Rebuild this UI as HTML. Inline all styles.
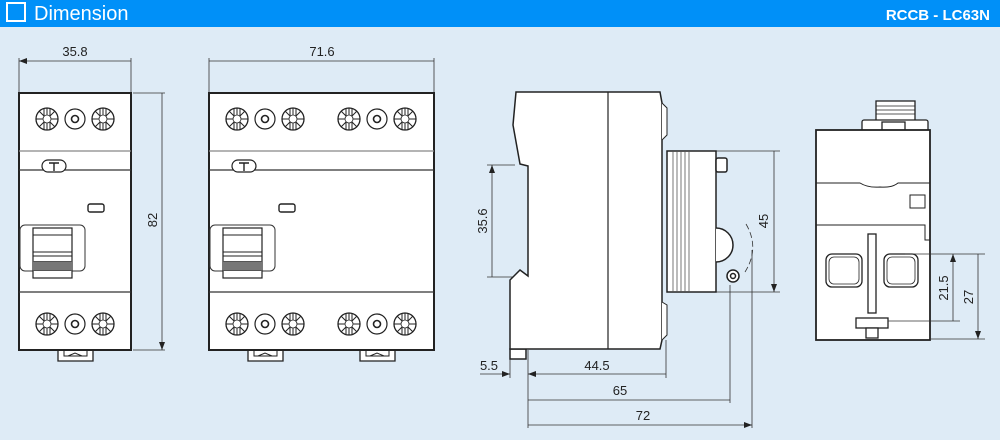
<!DOCTYPE html>
<html><head><meta charset="utf-8"><style>
html,body{margin:0;padding:0;background:#deebf6;}
svg{display:block;}
text{font-family:"Liberation Sans",Arial,sans-serif;}
</style></head><body>
<svg width="1000" height="440" viewBox="0 0 1000 440" xmlns="http://www.w3.org/2000/svg">
<defs>
<g id="scr"><circle r="11" fill="#fff" stroke="#222" stroke-width="1.3"/><path d="M-11,0H11M0,-11V11M-8,-8L8,8M-8,8L8,-8M-3,-10V10M3,-10V10" stroke="#222" stroke-width="1"/><circle r="4" fill="#fff" stroke="#222" stroke-width="0.8"/></g>
<g id="nut"><circle r="10" fill="#fff" stroke="#222" stroke-width="1.2"/><circle r="3.5" fill="#fff" stroke="#222" stroke-width="1.6"/></g>
<g id="row"><use href="#scr" x="0"/><use href="#nut" x="28"/><use href="#scr" x="56"/></g>
<g id="foot"><path d="M0,0V11H35V0" fill="#fff" stroke="#222" stroke-width="1.3"/><path d="M6,0V6H29V0M10,6L17,3L24,6" fill="none" stroke="#222" stroke-width="1"/></g>
<g id="tog"><rect x="0" y="0" width="65" height="46" rx="5" fill="#fff" stroke="#333" stroke-width="1"/><rect x="13" y="3" width="39" height="50" fill="#fff" stroke="#222" stroke-width="1.2"/><path d="M13,10H52M13,27H52M13,31H52" stroke="#222" stroke-width="1"/><rect x="13" y="36" width="39" height="10" fill="#555"/><path d="M13,38H52M13,40H52M13,42H52M13,44H52" stroke="#ddd" stroke-width="0.6"/></g>
<marker id="a" markerWidth="8" markerHeight="6" refX="8" refY="3" orient="auto-start-reverse" markerUnits="userSpaceOnUse"><path d="M0,0L8,3L0,6" fill="#222"/></marker>
</defs>
<rect x="0" y="0" width="1000" height="27" fill="#0090f8"/>
<rect x="7" y="3" width="18" height="18" fill="none" stroke="#fff" stroke-width="2"/>
<text x="34" y="20" fill="#fff" font-size="20">Dimension</text>
<text x="990" y="20" fill="#fff" font-size="15" font-weight="bold" text-anchor="end">RCCB - LC63N</text>

<g stroke="#333" stroke-width="0.8" fill="none">
<path d="M19,58V93M131,58V93M209,58V93M434,58V93M133,93H165M133,350H165"/>
<path d="M19,61H131M209,61H434M162,93V350" marker-start="url(#a)" marker-end="url(#a)"/>
</g>
<text x="75" y="56" font-size="13" text-anchor="middle" fill="#222">35.8</text>
<text x="322" y="56" font-size="13" text-anchor="middle" fill="#222">71.6</text>
<text transform="translate(157,220) rotate(-90)" font-size="13" text-anchor="middle" fill="#222">82</text>

<!-- left module -->
<use href="#foot" x="58" y="350"/>
<rect x="19" y="93" width="112" height="257" fill="#fff" stroke="#222" stroke-width="2"/>
<path d="M19,151H131" stroke="#888" stroke-width="1.2"/><path d="M19,170H131M19,292H131" stroke="#333" stroke-width="1.2"/>
<rect x="42" y="160" width="24" height="12" rx="6" fill="#fff" stroke="#222" stroke-width="1.2"/><path d="M49,163H59M54,163V171" stroke="#222" stroke-width="1.4"/>
<rect x="88" y="204" width="16" height="8" rx="2" fill="#fff" stroke="#222" stroke-width="1.4"/>
<use href="#tog" x="20" y="225"/>
<use href="#row" x="47" y="119"/><use href="#row" x="47" y="324"/>

<!-- middle module -->
<use href="#foot" x="248" y="350"/><use href="#foot" x="360" y="350"/>
<rect x="209" y="93" width="225" height="257" fill="#fff" stroke="#222" stroke-width="2"/>
<path d="M209,151H434" stroke="#888" stroke-width="1.2"/><path d="M209,170H434M209,292H434" stroke="#333" stroke-width="1.2"/>
<rect x="232" y="160" width="24" height="12" rx="6" fill="#fff" stroke="#222" stroke-width="1.2"/><path d="M239,163H249M244,163V171" stroke="#222" stroke-width="1.4"/>
<rect x="279" y="204" width="16" height="8" rx="2" fill="#fff" stroke="#222" stroke-width="1.4"/>
<use href="#tog" x="210" y="225"/>
<use href="#row" x="237" y="119"/><use href="#row" x="349" y="119"/>
<use href="#row" x="237" y="324"/><use href="#row" x="349" y="324"/>

<!-- side view -->
<g stroke="#333" stroke-width="0.8" fill="none">
<path d="M487,165H515M487,277H515M716,151H780M716,292H780"/>
<path d="M492,165V277M774,151V292" marker-start="url(#a)" marker-end="url(#a)"/>
<path d="M510,350V378M528,350V428M666,340V378M730,285V403M752,250V428"/>
<path d="M480,374H510" marker-end="url(#a)"/>
<path d="M528,374H666M528,400H730M528,425H752" marker-start="url(#a)" marker-end="url(#a)"/>
<path d="M746,224Q760,248 745,272" stroke-dasharray="6,3"/>
</g>
<text transform="translate(487,221) rotate(-90)" font-size="13" text-anchor="middle" fill="#222">35.6</text>
<text transform="translate(768,221) rotate(-90)" font-size="13" text-anchor="middle" fill="#222">45</text>
<text x="489" y="370" font-size="13" text-anchor="middle" fill="#222">5.5</text>
<text x="597" y="370" font-size="13" text-anchor="middle" fill="#222">44.5</text>
<text x="620" y="395" font-size="13" text-anchor="middle" fill="#222">65</text>
<text x="643" y="420" font-size="13" text-anchor="middle" fill="#222">72</text>
<g stroke="#222" stroke-width="1.5" fill="#fff">
<rect x="510" y="349" width="16" height="10"/>
<path d="M516,92H660L662,103V340L660,349H510V280L520,270L528,276V166L520,164L513,125Z"/>
<path d="M662,103L667,108V135L662,140M662,302L667,305V335L662,340" stroke-width="1"/>
<rect x="667" y="151" width="49" height="141"/>
<rect x="716" y="158" width="11" height="14" rx="2"/>
<path d="M716,228A13,13 0 0 1 716,262" />
<circle cx="733" cy="276" r="6"/><circle cx="733" cy="276" r="2.5"/>
</g>
<path d="M608,92V349" stroke="#222" stroke-width="1.2"/>
<path d="M673,151V292M677,151V292M681,151V292M685,151V292M689,151V292" stroke="#555" stroke-width="0.8"/>

<!-- right view -->
<g stroke="#222" stroke-width="1.3" fill="#fff">
<rect x="876" y="101" width="39" height="20"/>
<path d="M876,106H915M876,110H915M876,114H915" stroke-width="0.7"/>
<rect x="862" y="120" width="66" height="12" rx="2"/>
<rect x="882" y="122" width="23" height="11"/>
<rect x="816" y="130" width="114" height="210" stroke-width="1.8"/>
<path d="M816,183H860Q868,188 880,187Q892,188 898,183H930" fill="none" stroke-width="1"/>
<rect x="910" y="195" width="15" height="13" stroke-width="1"/>
<path d="M816,225H925V240H930" fill="none" stroke-width="1"/>
<rect x="868" y="234" width="8" height="79"/>
<rect x="826" y="254" width="36" height="33" rx="6"/><rect x="829" y="257" width="30" height="27" rx="5" stroke-width="0.8"/>
<rect x="884" y="254" width="34" height="33" rx="6"/><rect x="887" y="257" width="28" height="27" rx="5" stroke-width="0.8"/>
<rect x="856" y="318" width="32" height="10"/>
<rect x="866" y="328" width="12" height="10"/>
</g>
<g stroke="#333" stroke-width="0.8" fill="none">
<path d="M905,254H985M888,321H960M930,339H985"/>
<path d="M953,254V321M978,254V339" marker-start="url(#a)" marker-end="url(#a)"/>
</g>
<text transform="translate(948,288) rotate(-90)" font-size="13" text-anchor="middle" fill="#222">21.5</text>
<text transform="translate(973,297) rotate(-90)" font-size="13" text-anchor="middle" fill="#222">27</text>
</svg>
</body></html>
